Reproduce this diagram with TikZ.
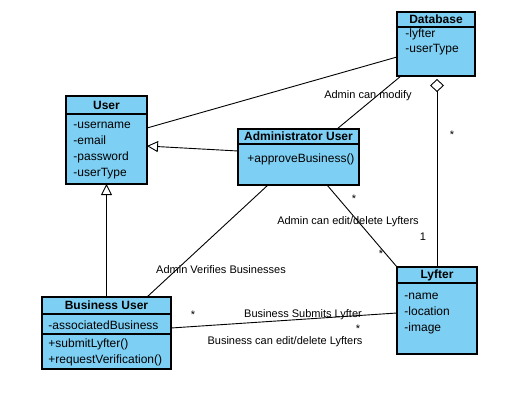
\documentclass[tikz,border=0pt]{standalone}
\usepackage{fontspec}
\setmainfont{Liberation Sans}
\usetikzlibrary{positioning, arrows.meta}
\definecolor{umlblue}{RGB}{126,207,244}

\begin{document}
\begin{tikzpicture}[x=1pt, y=-1pt, line width=0.9pt,
    classhead/.style={draw, fill=umlblue, line width=1.1pt, inner sep=0pt, outer sep=0pt, font=\bfseries\fontsize{12}{14}\selectfont},
    classbox/.style={draw, fill=umlblue, line width=1.1pt, inner sep=0pt, outer sep=0pt},
    members/.style={anchor=north west, inner sep=0pt, align=left, font=\fontsize{12}{16}\selectfont},
    lbl/.style={inner sep=0pt, font=\fontsize{11}{13}\selectfont},
    gen/.style={-{Triangle[length=11pt, width=11pt, fill=white]}},
    agg/.style={-{Diamond[length=13pt, width=14pt, fill=white]}}]
      \useasboundingbox (0,0) rectangle (528,404);

      % classes
      \node[classhead, minimum width=81pt, minimum height=18pt, anchor=north west] (user) at (66,96) {User};
      \node[classbox, minimum width=81pt, minimum height=70pt, below=0pt of user] (userbox) {};
      \node[members] (usermem) at (73,116.8) {\strut-username\\-email\\-password\\-userType};

      \node[classhead, minimum width=121pt, minimum height=15pt, anchor=north west] (admin) at (238,129) {Administrator User};
      \node[classbox, minimum width=121pt, minimum height=41pt, below=0pt of admin] (adminbox) {};
      \node[members] (adminmem) at (247,150.8) {\strut+approveBusiness()};

      \node[classhead, minimum width=78pt, minimum height=15pt, anchor=north west] (db) at (397,12) {Database};
      \node[classbox, minimum width=78pt, minimum height=49pt, below=0pt of db] (dbbox) {};
      \node[members, font=\fontsize{12}{15.5}\selectfont] (dbmem) at (405,26.2) {\strut-lyfter\\-userType};

      \node[classhead, minimum width=80pt, minimum height=16pt, anchor=north west] (lyf) at (397,267) {Lyfter};
      \node[classbox, minimum width=80pt, minimum height=71pt, below=0pt of lyf] (lyfbox) {};
      \node[members] (lyfmem) at (404,287.8) {\strut-name\\-location\\-image};

      \node[classhead, minimum width=129pt, minimum height=17pt, anchor=north west] (bus) at (42,297) {Business User};
      \node[classbox, minimum width=129pt, minimum height=20pt, below=0pt of bus] (busatt) {};
      \node[classbox, minimum width=129pt, minimum height=35pt, below=0pt of busatt] (busops) {};
      \node[members] (busattmem) at (48,317.8) {\strut-associatedBusiness};
      \node[members] (busopsmem) at (48,335.8) {\strut+submitLyfter()\\+requestVerification()};

      % labels
      \node[lbl] (lmodify) at (368,96) {Admin can modify};
      \node[lbl] (ladmstar) at (354,199) {*};
      \node[lbl] (ledit) at (348,222) {Admin can edit/delete Lyfters};
      \node[lbl] (lone) at (423,237) {1};
      \node[lbl] (llyfstar) at (381,254) {*};
      \node[lbl] (ldbstar) at (452,135) {*};
      \node[lbl] (lverify) at (221,270) {Admin Verifies Businesses};
      \node[lbl] (lbusstar) at (193,315) {*};
      \node[lbl] (lsubmit) at (303,315) {Business Submits Lyfter};
      \node[lbl] (lsubstar) at (358,329) {*};
      \node[lbl] (lbusedit) at (285,342) {Business can edit/delete Lyfters};

      % connectors
      \draw ([yshift=-14pt]userbox.north east) -- ([yshift=-30pt]dbbox.north west);
      \draw ([xshift=38.5pt]admin.north) -- ([xshift=4pt]dbbox.south west);
      \draw[gen] ([yshift=-7pt]adminbox.north west) -- ([yshift=-32pt]userbox.north east);
      \draw[gen] (bus.north) -- (userbox.south);
      \draw ([xshift=-30.5pt]adminbox.south) -- ([xshift=-24pt]bus.north east);
      \draw ([xshift=28.5pt]adminbox.south) -- (lyf.north west);
      \draw[agg, shorten >=3pt] (lyf.north) -- (lyf.north |- dbbox.south);
      \draw ([yshift=-14pt]busatt.north east) -- ([yshift=-30pt]lyfbox.north west);
\end{tikzpicture}
\end{document}
